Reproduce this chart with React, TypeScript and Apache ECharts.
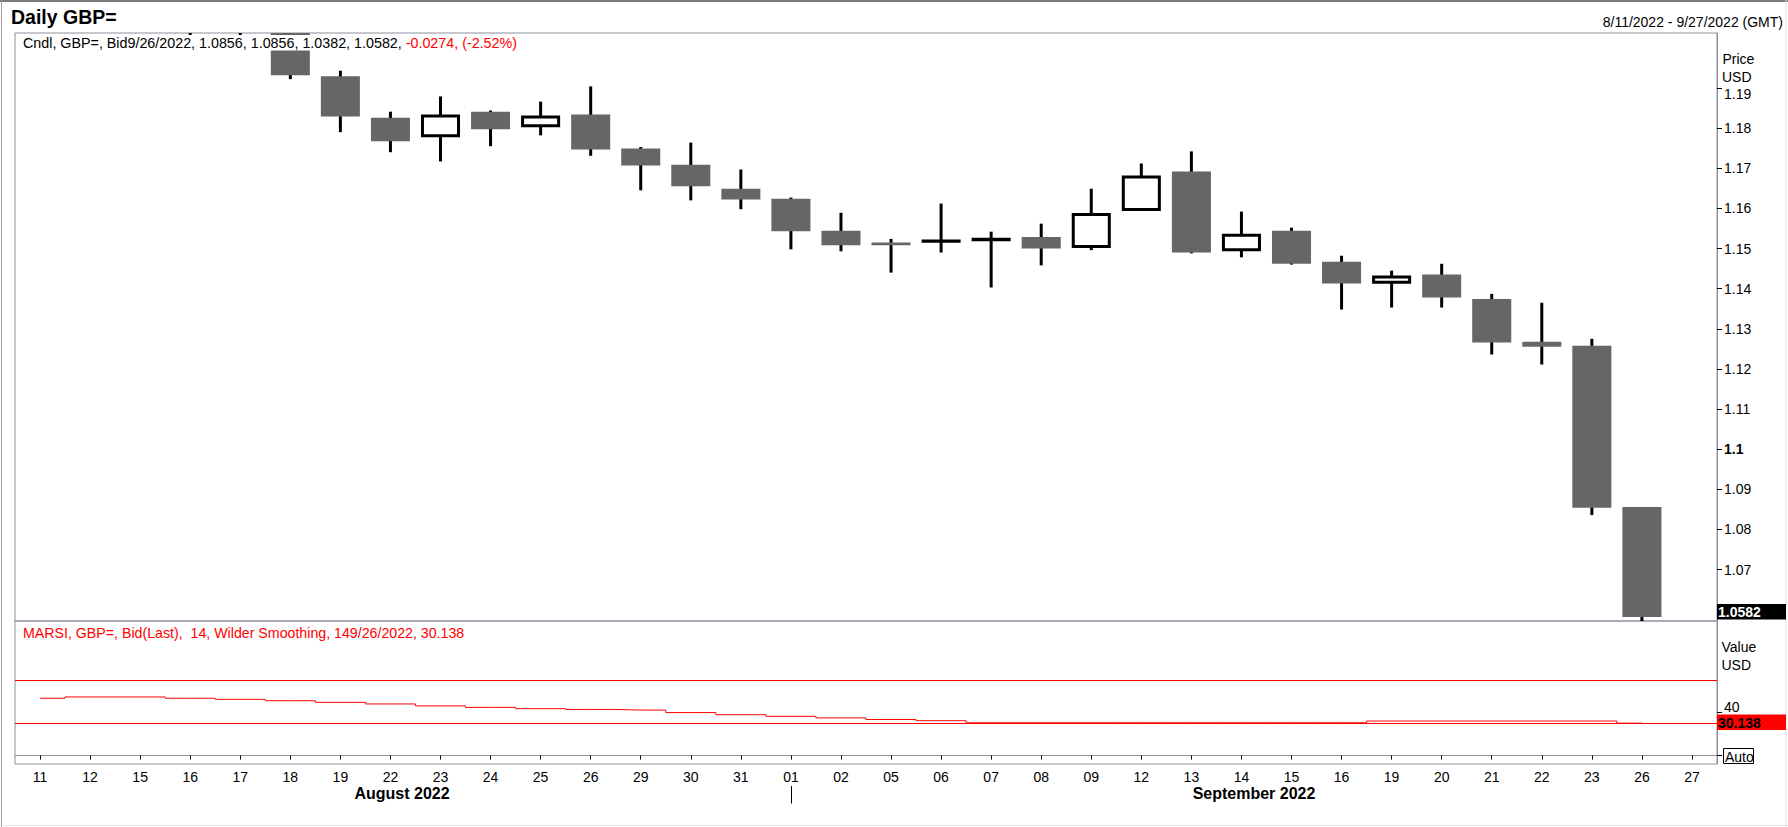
import React, { useEffect, useRef } from "react";
import * as echarts from "echarts";

const FONT = '"Liberation Sans", Arial, Helvetica, sans-serif';

// Trading days (category axis)
const dates = [
  "2022-08-11", "2022-08-12", "2022-08-15", "2022-08-16", "2022-08-17", "2022-08-18", "2022-08-19",
  "2022-08-22", "2022-08-23", "2022-08-24", "2022-08-25", "2022-08-26", "2022-08-29", "2022-08-30",
  "2022-08-31", "2022-09-01", "2022-09-02", "2022-09-05", "2022-09-06", "2022-09-07", "2022-09-08",
  "2022-09-09", "2022-09-12", "2022-09-13", "2022-09-14", "2022-09-15", "2022-09-16", "2022-09-19",
  "2022-09-20", "2022-09-21", "2022-09-22", "2022-09-23", "2022-09-26", "2022-09-27",
];

// Daily GBP= bid OHLC (Sep 27 has no bar)
const opens = [
  1.2205, 1.2200, 1.2130, 1.2060, 1.2100, 1.2045, 1.1929, 1.1826, 1.1781, 1.1841, 1.1806, 1.1834,
  1.1749, 1.1709, 1.1649, 1.1624, 1.1544, 1.1515, 1.1518, 1.1522, 1.1529, 1.1505, 1.1597, 1.1692,
  1.1497, 1.1544, 1.1467, 1.1416, 1.1435, 1.1374, 1.1268, 1.1258, 1.0856,
];
const highs = [
  1.2276, 1.2210, 1.2140, 1.2125, 1.2130, 1.2065, 1.1943, 1.1841, 1.1879, 1.1844, 1.1866, 1.1904,
  1.1753, 1.1764, 1.1697, 1.1627, 1.1589, 1.1524, 1.1612, 1.1542, 1.1562, 1.1649, 1.1712, 1.1742,
  1.1592, 1.1552, 1.1482, 1.1445, 1.1462, 1.1387, 1.1365, 1.1275, 1.0856,
];
const lows = [
  1.2185, 1.2108, 1.2055, 1.2020, 1.2025, 1.1922, 1.1790, 1.1740, 1.1717, 1.1755, 1.1782, 1.1731,
  1.1645, 1.1620, 1.1598, 1.1498, 1.1493, 1.1440, 1.1490, 1.1403, 1.1458, 1.1496, 1.1596, 1.1488,
  1.1478, 1.1460, 1.1348, 1.1353, 1.1353, 1.1236, 1.1211, 1.0836, 1.0382,
];
const closes = [
  1.2210, 1.2135, 1.2060, 1.2100, 1.2045, 1.1932, 1.1829, 1.1767, 1.1830, 1.1797, 1.1828, 1.1747,
  1.1707, 1.1655, 1.1622, 1.1543, 1.1508, 1.1508, 1.1519, 1.1523, 1.1500, 1.1585, 1.1678, 1.1490,
  1.1533, 1.1462, 1.1413, 1.1429, 1.1378, 1.1266, 1.1255, 1.0854, 1.0582,
];

// MARSI (14, Wilder smoothing)
const rsi = [
  53.3, 54.5, 54.5, 53.3, 52.3, 51.0, 49.5, 48.0, 46.2, 44.8, 43.6, 42.9, 42.3, 40.0, 38.0, 36.5,
  35.0, 33.5, 32.4, 30.5, 30.5, 30.5, 30.5, 30.5, 30.5, 30.5, 30.5, 32.1, 32.1, 32.1, 32.1, 32.1,
  30.138,
];
const rsiLevels = [70, 30];

const priceTicks = [1.19, 1.18, 1.17, 1.16, 1.15, 1.14, 1.13, 1.12, 1.11, 1.1, 1.09, 1.08, 1.07];
const rsiTickValues = [0, 40];
const rsiLabelValues = [40];

export default function App() {
  const ref = useRef<HTMLDivElement>(null);

  useEffect(() => {
    if (!ref.current) return;
    const chart = echarts.init(ref.current, null, { renderer: "svg" });

    const candleData = opens.map((o, i) => [i, o, closes[i], lows[i], highs[i]]);
    const rsiData = rsi.map((v, i) => [i, v]);

    const gray = "#8f8f9f";

    const renderCandle = (params: any, api: any) => {
      const idx = api.value(0);
      const o = api.value(1);
      const c = api.value(2);
      const l = api.value(3);
      const h = api.value(4);
      const pO = api.coord([idx, o]);
      const pC = api.coord([idx, c]);
      const pL = api.coord([idx, l]);
      const pH = api.coord([idx, h]);
      const w = api.size([1, 0])[0] * 0.78;
      const x = pO[0];
      const yTop = Math.min(pO[1], pC[1]);
      const yBot = Math.max(pO[1], pC[1]);
      const up = c >= o;
      const cs = params.coordSys;
      const children: any[] = [
        {
          type: "line",
          shape: { x1: x, y1: pH[1], x2: x, y2: pL[1] },
          style: { stroke: "#000", lineWidth: 3 },
        },
      ];
      if (up) {
        children.push({
          type: "rect",
          shape: { x: x - w / 2 + 1.5, y: yTop, width: w - 3, height: Math.max(yBot - yTop, 0.3) },
          style: { fill: "#fff", stroke: "#000", lineWidth: 3 },
        });
      } else {
        children.push({
          type: "rect",
          shape: { x: x - w / 2, y: yTop, width: w, height: Math.max(yBot - yTop, 1) },
          style: { fill: "#666666" },
        });
      }
      return {
        type: "group",
        children,
        clipPath: { type: "rect", shape: { x: cs.x, y: cs.y, width: cs.width, height: cs.height } },
      };
    };

    const fmtPrice = (v: number) => {
      const s = String(+(+v).toFixed(2));
      if (s === "1.1") return "{b|1.1}";
      if (s === "1.19") return "{d|1.19}";
      return s;
    };

    const txt = (x: number, y: number, text: string, extra: any = {}) => ({
      type: "text",
      x,
      y,
      z: 100,
      silent: true,
      style: {
        text,
        fill: "#000",
        fontSize: 14,
        fontFamily: FONT,
        align: "left",
        verticalAlign: "middle",
        ...extra,
      },
    });

    const option: any = {
      animation: false,
      backgroundColor: "#fff",
      textStyle: { fontFamily: FONT },
      grid: [
        { left: 15, top: 33, width: 1702, height: 588, show: true, borderColor: gray, borderWidth: 1, backgroundColor: "transparent" },
        { left: 15, top: 621, width: 1702, height: 143, show: true, borderColor: gray, borderWidth: 1, backgroundColor: "transparent" },
      ],
      xAxis: [
        { type: "category", gridIndex: 0, data: dates, boundaryGap: true, show: false },
        {
          type: "category",
          gridIndex: 1,
          data: dates,
          boundaryGap: true,
          axisLine: { show: true, lineStyle: { color: gray, width: 1 } },
          axisTick: { show: true, alignWithLabel: true, length: 4, interval: 0, lineStyle: { color: "#000" } },
          axisLabel: {
            interval: 0,
            fontSize: 14,
            color: "#000",
            margin: 6,
            fontFamily: FONT,
            formatter: (v: string) => v.slice(8),
          },
          splitLine: { show: false },
        },
      ],
      yAxis: [
        {
          type: "value",
          gridIndex: 0,
          position: "right",
          min: 1.0572,
          max: 1.2037,
          scale: true,
          axisLine: { show: true, lineStyle: { color: gray, width: 1 } },
          axisTick: { show: true, length: 5, customValues: priceTicks, lineStyle: { color: "#000" } },
          axisLabel: {
            customValues: priceTicks,
            fontSize: 14,
            color: "#000",
            margin: 7,
            fontFamily: FONT,
            formatter: fmtPrice,
            rich: {
              b: { fontWeight: "bold", fontSize: 14, color: "#000", fontFamily: FONT },
              d: { fontSize: 14, color: "#000", fontFamily: FONT, padding: [12, 0, 0, 0] },
            },
          },
          splitLine: { show: false },
        },
        {
          type: "value",
          gridIndex: 1,
          position: "right",
          min: -7.86,
          max: 125.16,
          axisLine: { show: true, lineStyle: { color: gray, width: 1 } },
          axisTick: { show: true, length: 5, customValues: rsiTickValues, lineStyle: { color: "#000" } },
          axisLabel: {
            customValues: rsiLabelValues,
            fontSize: 14,
            color: "#000",
            margin: 7,
            fontFamily: FONT,
            formatter: (v: number) => "{u|" + String(Math.round(v)) + "}",
            rich: {
              u: { fontSize: 14, color: "#000", fontFamily: FONT, lineHeight: 13, padding: [0, 0, 12, 0] },
            },
          },
          splitLine: { show: false },
        },
      ],
      series: [
        {
          type: "custom",
          name: "GBP=",
          xAxisIndex: 0,
          yAxisIndex: 0,
          clip: true,
          renderItem: renderCandle,
          encode: { x: 0, y: [1, 2, 3, 4] },
          data: candleData,
          z: 2,
        },
        {
          type: "line",
          name: "MARSI",
          xAxisIndex: 1,
          yAxisIndex: 1,
          data: rsiData,
          step: "middle",
          symbol: "none",
          showSymbol: false,
          lineStyle: { color: "#ff0000", width: 1 },
          markLine: {
            silent: true,
            symbol: ["none", "none"],
            label: { show: false },
            lineStyle: { color: "#ff0000", width: 1, type: "solid" },
            data: rsiLevels.map((v) => ({ yAxis: v })),
          },
          z: 3,
        },
      ],
      graphic: {
        elements: [
          // outer frame
          { type: "line", z: 100, silent: true, shape: { x1: 0, y1: 1, x2: 1788, y2: 1 }, style: { stroke: "#7a7a7a", lineWidth: 2 } },
          { type: "line", z: 100, silent: true, shape: { x1: 1.5, y1: 0, x2: 1.5, y2: 827 }, style: { stroke: "#a0a0a0", lineWidth: 1 } },
          { type: "line", z: 100, silent: true, shape: { x1: 1786, y1: 0, x2: 1786, y2: 827 }, style: { stroke: "#e3e3e3", lineWidth: 1 } },
          { type: "line", z: 100, silent: true, shape: { x1: 0, y1: 825.5, x2: 1788, y2: 825.5 }, style: { stroke: "#e3e3e3", lineWidth: 1 } },
          // titles
          txt(11, 17, "Daily GBP=", { fontSize: 19.5, fontWeight: "bold" }),
          txt(1783, 21.5, "8/11/2022 - 9/27/2022 (GMT)", { align: "right" }),
          // price legend with white background
          { type: "rect", z: 99, silent: true, shape: { x: 16, y: 35, width: 506, height: 15.5 }, style: { fill: "#fff" } },
          txt(23, 43.3, "{k|Cndl, GBP=, Bid9/26/2022, 1.0856, 1.0856, 1.0382, 1.0582, }{r|-0.0274, (-2.52%)}", {
            rich: {
              k: { fill: "#000", fontSize: 14.3, fontFamily: FONT },
              r: { fill: "#ff0000", fontSize: 14.3, fontFamily: FONT },
            },
          }),
          txt(23, 633, "MARSI, GBP=, Bid(Last),  14, Wilder Smoothing, 149/26/2022, 30.138", { fill: "#ff0000", fontSize: 14.2 }),
          // axis captions
          txt(1722.5, 58.5, "Price"),
          txt(1722, 76.5, "USD"),
          txt(1721.5, 647, "Value"),
          txt(1721.5, 665, "USD"),
          // last value boxes
          { type: "rect", z: 100, silent: true, shape: { x: 1717, y: 604, width: 69, height: 15.5 }, style: { fill: "#000" } },
          txt(1718, 612, "1.0582", { fill: "#fff", fontWeight: "bold" }),
          { type: "rect", z: 100, silent: true, shape: { x: 1717, y: 714.5, width: 69, height: 15.5 }, style: { fill: "#ff0000" } },
          txt(1718, 722.5, "30.138", { fill: "#000", fontWeight: "bold" }),
          // Auto button
          { type: "rect", z: 100, silent: true, shape: { x: 1723.5, y: 748.5, width: 30, height: 15 }, style: { fill: "#fff", stroke: "#000", lineWidth: 1 } },
          txt(1725, 756.5, "Auto"),
          // month labels
          txt(402, 793, "August 2022", { fontSize: 16, fontWeight: "bold", align: "center" }),
          txt(1254, 793, "September 2022", { fontSize: 16, fontWeight: "bold", align: "center" }),
          { type: "line", z: 100, silent: true, shape: { x1: 791.5, y1: 786, x2: 791.5, y2: 803.5 }, style: { stroke: "#000", lineWidth: 1 } },
        ],
      },
    };

    chart.setOption(option);
    return () => {
      chart.dispose();
    };
  }, []);

  return (
    <div
      ref={ref}
      style={{ position: "fixed", left: 0, top: 0, width: 1788, height: 827, background: "#fff" }}
    />
  );
}
